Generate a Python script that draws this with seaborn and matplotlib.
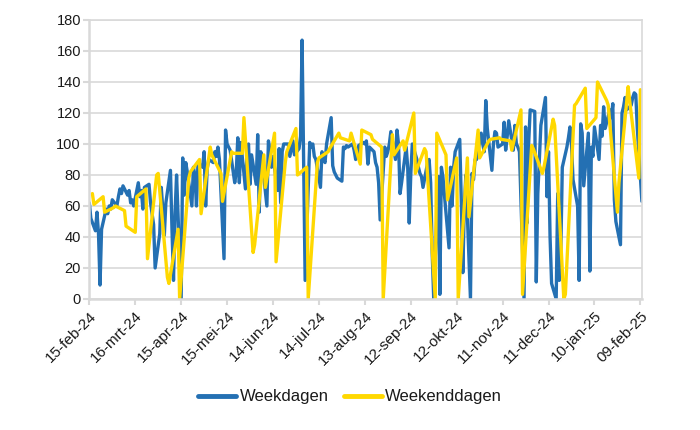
import matplotlib
matplotlib.use("Agg")
import matplotlib.pyplot as plt
import pandas as pd
import seaborn as sns

start = "2024-02-15"
end = "2025-02-10"

# Mon-Fri values, one line per month
weekday_values = (
    [62, 52, 44, 56, 42, 9, 45, 58, 55, 60, 58]
    + [64, 60, 66, 71, 68, 73, 67, 70, 62, 64, 60, 75, 66, 70, 58, 72, 74, 62, 55, 48, 20]
    + [42, 72, 58, 41, 62, 83, 45, 12, 55, 80, 0, 91, 67, 88, 82, 60, 85, 80, 60, 88, 85, 95]
    + [60, 84, 90, 88, 95, 92, 98, 90, 26, 109, 100, 98, 96, 75, 82, 104, 75, 101, 71, 93, 100, 74, 93]
    + [74, 106, 56, 95, 88, 60, 102, 96, 85, 92, 70, 97, 62, 95, 100, 100, 92, 97, 102, 93]
    + [97, 105, 167, 88, 12, 101, 98, 100, 92, 90, 72, 95, 90, 88, 100, 117, 86, 82, 80, 78, 76, 98, 97]
    + [99, 98, 100, 96, 90, 92, 99, 101, 100, 102, 87, 98, 95, 88, 85, 75, 51, 98, 92, 95, 100, 108]
    + [90, 109, 100, 68, 75, 98, 85, 49, 80, 100, 90, 85, 81, 79, 72, 88, 90, 75, 30, 0, 79]
    + [3, 85, 79, 67, 33, 85, 60, 85, 95, 103, 64, 17, 60, 80, 0, 81, 77, 90, 90, 107, 100, 95, 128]
    + [110, 83, 100, 108, 107, 98, 100, 114, 96, 105, 115, 96, 112, 100, 98, 95, 0, 111, 49, 100, 122]
    + [121, 11, 68, 90, 112, 130, 66, 95, 40, 10, 0, 68, 12, 30, 85, 98, 104, 111, 100, 77, 60, 12]
    + [113, 107, 73, 107, 18, 98, 92, 111, 90, 112, 105, 124, 110, 122, 117, 126, 64, 50, 35, 120, 124, 130, 122]
    + [125, 130, 133, 132, 110, 63]
)

# Sat/Sun values, one line per month
weekend_values = (
    [68, 61, 66, 56]
    + [59, 60, 57, 47, 43, 66, 71, 26, 80, 81]
    + [14, 10, 45, 0, 78, 82, 90, 55]
    + [98, 93, 81, 63, 95, 94, 94, 117]
    + [30, 35, 93, 72, 107, 24, 88, 95, 110, 80]
    + [85, 0, 88, 91, 95, 97, 107, 104]
    + [102, 107, 87, 109, 106, 103, 98, 0, 106]
    + [93, 102, 96, 120, 81, 97, 95, 0, 107]
    + [93, 64, 91, 0, 91, 53, 109, 91]
    + [102, 103, 104, 103, 102, 96, 122, 3, 99]
    + [97, 81, 85, 116, 112, 0, 3, 125, 126]
    + [136, 110, 117, 140, 128, 125, 56, 75]
    + [137, 128, 78, 135]
)

tick_labels = ["15-feb-24", "16-mrt-24", "15-apr-24", "15-mei-24", "14-jun-24",
               "14-jul-24", "13-aug-24", "12-sep-24", "12-okt-24", "11-nov-24",
               "11-dec-24", "10-jan-25", "09-feb-25"]
y_ticks = list(range(0, 181, 20))

BLUE = "#2470b3"
YELLOW = "#ffd800"
GRID = "#d9d9d9"

days = pd.date_range(start, end, freq="D")
is_weekday = days.dayofweek < 5
weekdays = pd.DataFrame({"date": days[is_weekday], "value": weekday_values})
weekends = pd.DataFrame({"date": days[~is_weekday], "value": weekend_values})

sns.set_theme(style="white")
plt.rcParams["font.family"] = ["Liberation Sans", "DejaVu Sans"]

fig = plt.figure(figsize=(7, 4.3), dpi=100)
ax = fig.add_axes([0.1276, 0.3047, 0.7894, 0.6488])

sns.lineplot(data=weekdays, x="date", y="value", color=BLUE, lw=2.4,
             label="Weekdagen", ax=ax, solid_joinstyle="round")
sns.lineplot(data=weekends, x="date", y="value", color=YELLOW, lw=2.4,
             label="Weekenddagen", ax=ax, solid_joinstyle="round")

ax.set_xlim(pd.Timestamp(start), pd.Timestamp(end))
ax.set_ylim(0, 180)
ax.set_yticks(y_ticks)
ax.set_xticks(pd.date_range(start, periods=len(tick_labels), freq="30D"))
ax.set_xticklabels(tick_labels, rotation=45, ha="right", rotation_mode="anchor")
ax.set_xlabel("")
ax.set_ylabel("")

ax.yaxis.grid(True, color=GRID, lw=1.2)
ax.set_axisbelow(True)
for side in ["left", "bottom"]:
    ax.spines[side].set_color(GRID)
    ax.spines[side].set_linewidth(1.8)
for side in ["top", "right"]:
    ax.spines[side].set_color(GRID)
    ax.spines[side].set_linewidth(1.2)

ax.tick_params(axis="both", length=4, width=1.5, color=GRID,
               labelcolor="#1a1a1a", bottom=True, left=True)
ax.tick_params(axis="x", pad=3, labelsize=11)
ax.tick_params(axis="y", pad=2, labelsize=10.5)

leg = ax.legend(loc="center", bbox_to_anchor=(0.5, 0.077), bbox_transform=fig.transFigure,
                ncol=2, frameon=False, fontsize=12, handlelength=2.3,
                handletextpad=0.2, columnspacing=0.9)
for line in leg.get_lines():
    line.set_linewidth(3.5)
for text in leg.get_texts():
    text.set_color("#1a1a1a")

fig.savefig("out.png", dpi=100)
